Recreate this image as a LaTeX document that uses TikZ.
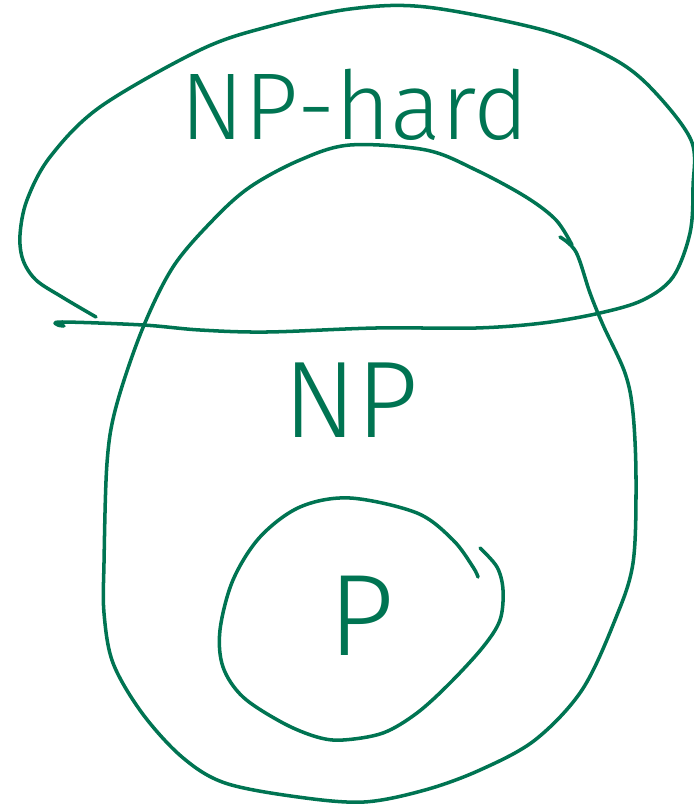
\documentclass[tikz,border=0pt]{standalone}
\usepackage{fontspec}
\usepackage{tikz}
\newfontfamily\handfont{Fira Sans Light}
\definecolor{inkgreen}{RGB}{0, 116, 82}
\tikzset{
  stroke/.style={draw=inkgreen, line width=2pt, line cap=round, line join=round},
  setlabel/.style={text=inkgreen, inner sep=0pt, anchor=base},
}

\begin{document}
\begin{tikzpicture}[x=0.02cm, y=-0.02cm]
\useasboundingbox (0,0) rectangle (693,804);

% NP-hard loop
\draw[stroke] plot[smooth, tension=0.55] coordinates {
  (96,317) (62,297) (36,280) (23,260) (20,235) (27,200) (50,157)
  (100,107) (200,50) (267,27) (350,9) (426,7) (543,30) (610,57)
  (650,87) (691,140) (693,187) (690,233) (673,277) (643,300)
  (600,313) (543,323) (476,328) (376,328) (267,332) (200,330)
  (143,325) (62,322) (58,325) (64,326)};

% NP blob
\draw[stroke] plot[smooth, tension=0.55] coordinates {
  (560,237) (576,252) (590,293) (603,325) (625,373) (633,413)
  (636,480) (633,563) (615,620) (582,690) (535,740) (480,770)
  (425,790) (364,802) (298,797) (225,783) (182,757) (142,713)
  (113,663) (104,613) (104,563) (107,463) (116,407) (142,330)
  (173,267) (213,220) (250,187) (300,160) (350,145) (426,150)
  (476,170) (526,197) (556,220) (572,245)};

% P circle
\draw[stroke] plot[smooth, tension=0.55] coordinates {
  (480,548) (497,567) (503,590) (500,620) (483,647) (450,683)
  (417,713) (383,733) (343,740) (317,737) (283,723) (243,697)
  (223,667) (220,630) (233,580) (260,537) (300,507) (350,498)
  (417,513) (453,540) (473,567) (478,577)};

\node (NPhard) [setlabel, font=\handfont\fontsize{54}{60}\selectfont] at (355,140) {NP-hard};
\node (NP)     [setlabel, font=\handfont\fontsize{62}{70}\selectfont] at (351,437) {NP};
\node (P)      [setlabel, font=\handfont\fontsize{66}{74}\selectfont] at (362,655) {P};
\end{tikzpicture}
\end{document}
